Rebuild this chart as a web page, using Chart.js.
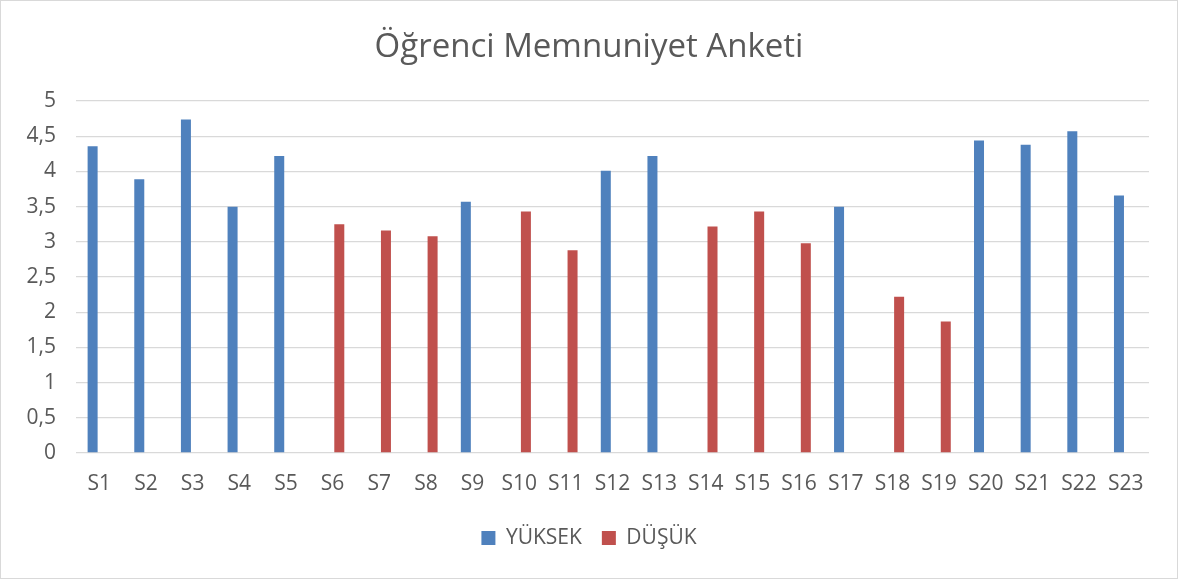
<!DOCTYPE html>
<html>
<head>
<meta charset="utf-8">
<script src="https://cdn.jsdelivr.net/npm/chart.js@4"></script>
<style>
    html, body { margin: 0; padding: 0; background: #ffffff; }
    #wrap {
        position: absolute; left: 0; top: 0;
        width: 1178px; height: 579px;
        box-sizing: border-box;
        border: 1px solid #d9d9d9;
    }
    #chart { display: block; }
</style>
</head>
<body>
<div id="wrap"><canvas id="chart" width="1176" height="577"></canvas></div>
<script>
// Values.
const categories = ['S1', 'S2', 'S3', 'S4', 'S5', 'S6', 'S7', 'S8', 'S9', 'S10', 'S11', 'S12',
    'S13', 'S14', 'S15', 'S16', 'S17', 'S18', 'S19', 'S20', 'S21', 'S22', 'S23'];
const yuksek = [4.36, 3.89, 4.74, 3.50, 4.22, null, null, null, 3.57, null, null, 4.01,
    4.22, null, null, null, 3.50, null, null, 4.44, 4.38, 4.57, 3.66];
const dusuk = [null, null, null, null, null, 3.25, 3.16, 3.08, null, 3.43, 2.88, null,
    null, 3.22, 3.43, 2.98, null, 2.22, 1.87, null, null, null, null];
const yTicks = [0, 0.5, 1, 1.5, 2, 2.5, 3, 3.5, 4, 4.5, 5];

const textColor = '#595959';
const fontFamily = '"Open Sans", sans-serif';

document.addEventListener('DOMContentLoaded', function() {
    const ctx = document.getElementById('chart');

    new Chart(ctx, {
        type: 'bar',
        data: {
            labels: categories,
            datasets: [
                {
                    label: 'YÜKSEK',
                    data: yuksek,
                    backgroundColor: '#4f81bd',
                    borderWidth: 0,
                    categoryPercentage: 0.575,
                    barPercentage: 0.746
                },
                {
                    label: 'DÜŞÜK',
                    data: dusuk,
                    backgroundColor: '#c0504d',
                    borderWidth: 0,
                    categoryPercentage: 0.575,
                    barPercentage: 0.746
                }
            ]
        },
        options: {
            responsive: false,
            animation: false,
            layout: { padding: { left: 0, right: 0, top: 0, bottom: 19.5 } },
            plugins: {
                title: {
                    display: true,
                    text: 'Öğrenci Memnuniyet Anketi',
                    color: textColor,
                    font: { family: fontFamily, size: 33, weight: 'normal' },
                    padding: { top: 26.5, bottom: 34 }
                },
                legend: {
                    position: 'bottom',
                    labels: {
                        color: textColor,
                        font: { family: fontFamily, size: 21 },
                        boxWidth: 14,
                        boxHeight: 14,
                        padding: 20
                    }
                },
                tooltip: { enabled: false }
            },
            scales: {
                x: {
                    grid: { display: false, drawTicks: false },
                    border: { display: false },
                    ticks: {
                        color: textColor,
                        font: { family: fontFamily, size: 21 },
                        padding: 18,
                        maxRotation: 0,
                        autoSkip: false
                    },
                    afterFit: function(scale) { scale.height = 54.5; }
                },
                y: {
                    min: 0,
                    max: 5,
                    afterBuildTicks: function(scale) {
                        scale.ticks = yTicks.map(v => ({ value: v }));
                    },
                    grid: { color: '#d9d9d9', lineWidth: 1.3, drawTicks: false },
                    border: { display: false },
                    ticks: {
                        color: textColor,
                        font: { family: fontFamily, size: 21 },
                        padding: 20,
                        callback: v => String(v).replace('.', ',')
                    },
                    afterFit: function(scale) { scale.width = 75; }
                },
                // empty right-hand spacer so the title and legend stay centred on the whole width
                yRight: {
                    position: 'right',
                    min: 0,
                    max: 5,
                    grid: { display: false, drawTicks: false },
                    border: { display: false },
                    ticks: { display: false },
                    afterFit: function(scale) { scale.width = 28; }
                }
            }
        }
    });
});
</script>
</body>
</html>
